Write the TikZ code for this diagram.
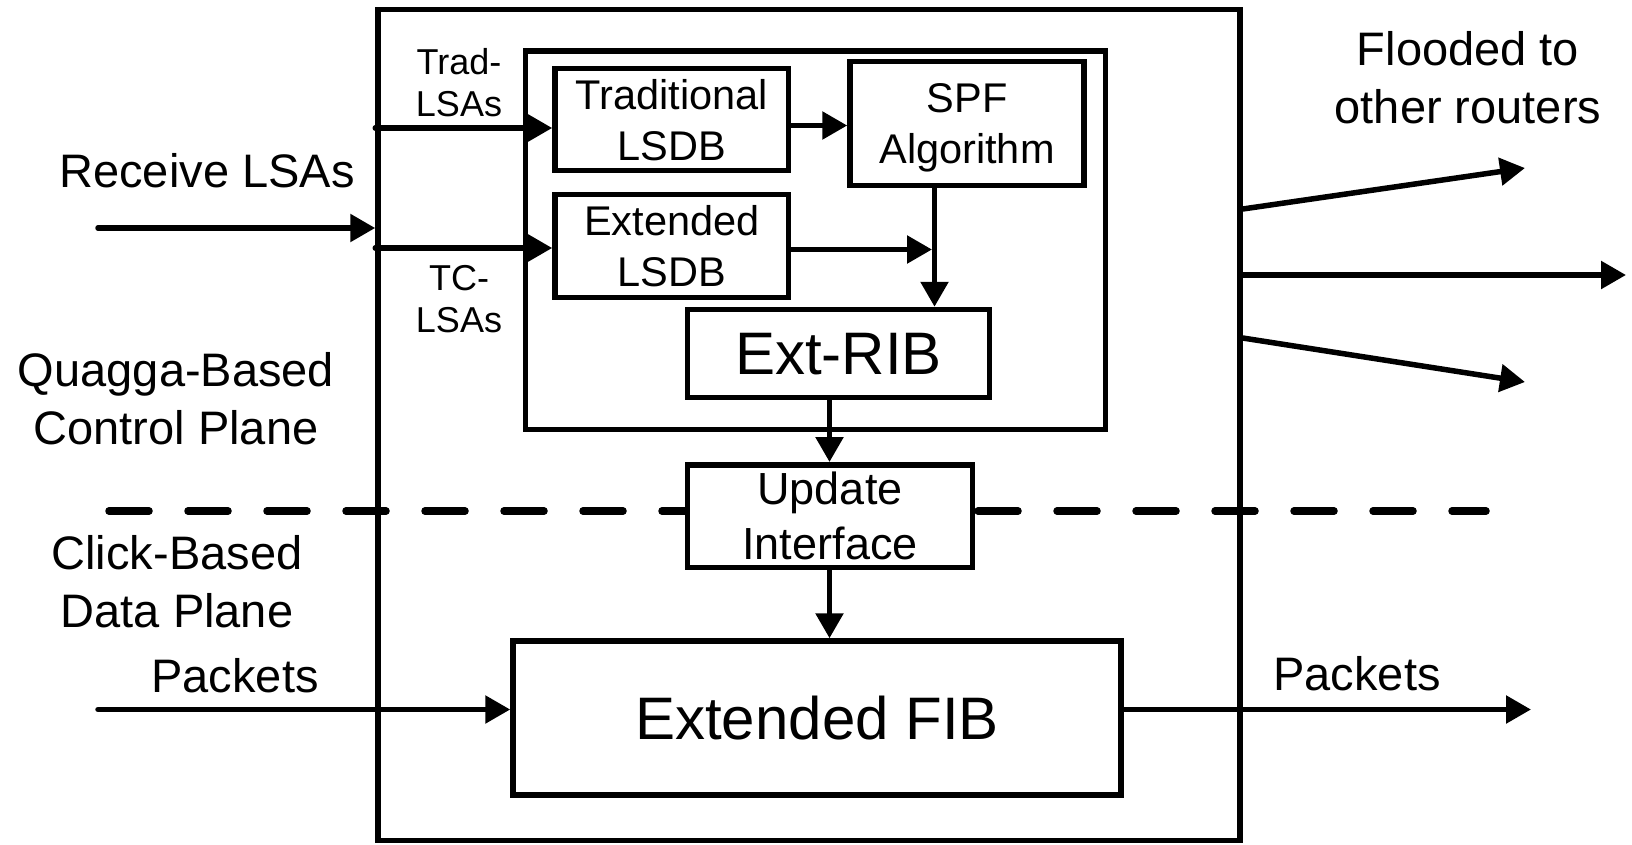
\documentclass[tikz,border=0pt]{standalone}
\usepackage{fontspec}
\setmainfont{Liberation Sans}
\usetikzlibrary{arrows.meta}

\begin{document}
\begin{tikzpicture}[x=1pt,y=-1pt,
  frame/.style={draw, line width=5.5pt, inner sep=0pt, align=center, text depth=0pt},
  conn/.style={line width=5.5pt, line cap=round, -{Triangle[length=25pt,width=27pt]}},
  sep/.style={line width=7.5pt, line cap=round, dash pattern=on 40pt off 39pt},
  outerfont/.style={font=\fontsize{47pt}{58pt}\selectfont},
  smallfont/.style={font=\fontsize{36pt}{42pt}\selectfont},
  boxfont/.style={font=\fontsize{41.5pt}{51pt}\selectfont},
  updfont/.style={font=\fontsize{45pt}{55pt}\selectfont},
  bigfont/.style={font=\fontsize{60pt}{70pt}\selectfont},
  lbl/.style={inner sep=0pt, align=center, anchor=base}]

\useasboundingbox (0,0) rectangle (1632,844);

% control/data plane separator
\draw[sep] (109,511) -- (1486,511);

% router and its blocks
\node[frame, minimum width=862pt, minimum height=831pt] (rtr) at (809,425) {};
\node[frame, minimum width=580pt, minimum height=378.5pt] (cp) at (815.5,240.25) {};
\node[frame, boxfont, minimum width=233.5pt, minimum height=102pt] (tlsdb) at (671.75,119.5) {Traditional\\LSDB};
\node[frame, boxfont, minimum width=234pt, minimum height=124pt] (spf) at (967,123.5) {SPF\\Algorithm};
\node[frame, boxfont, minimum width=233.5pt, minimum height=103pt] (elsdb) at (671.75,246) {Extended\\LSDB};
\node[frame, bigfont, minimum width=302pt, minimum height=88pt] (rib) at (838.5,353.5) {Ext-RIB};
\node[frame, fill=white, updfont, minimum width=285pt, minimum height=102.5pt] (upd) at (830,516) {Update\\Interface};
\node[frame, bigfont, minimum width=608pt, minimum height=154pt] (fib) at (817,718) {Extended FIB};

% labels
\node[lbl, outerfont] (flood) at (1468,123) {Flooded to\\other routers};
\node[lbl, outerfont] (recv) at (207,187) {Receive LSAs};
\node[lbl, outerfont] (cplabel) at (176,444) {Quagga-Based\\Control Plane};
\node[lbl, outerfont] (dplabel) at (177,627) {Click-Based\\Data Plane};
\node[lbl, outerfont] (pktin) at (235,692) {Packets};
\node[lbl, outerfont] (pktout) at (1357,690) {Packets};
\node[lbl, smallfont] (tradlbl) at (459,116) {Trad-\\LSAs};
\node[lbl, smallfont] (tclbl) at (459,332) {TC-\\LSAs};

% connectors
\coordinate (rx) at (98,228);
\draw[conn] (rx) -- (rx -| rtr.west);
\draw[conn] (rtr.west |- 0,128) -- (tlsdb.west |- 0,128);
\draw[conn] (rtr.west |- 0,248) -- (elsdb.west |- 0,248);
\draw[conn] (tlsdb.east |- 0,125.5) -- (spf.west |- 0,125.5);
\draw[conn] (spf.south -| 934.5,0) -- (rib.north -| 934.5,0);
\coordinate (mrg) at (932,249.5);
\draw[conn] (elsdb.east |- mrg) -- (mrg);
\draw[conn] (rib.south -| 829.5,0) -- (upd.north -| 829.5,0);
\draw[conn] (upd.south -| 829.5,0) -- (fib.north -| 829.5,0);
\coordinate (pin) at (98,709.5);
\draw[conn] (pin) -- (pin -| fib.west);
\coordinate (pout) at (1531,709.5);
\draw[conn] (fib.east |- pout) -- (pout);
\coordinate (f1) at (1525,168);
\coordinate (f2) at (1626,275);
\coordinate (f3) at (1525,382);
\draw[conn] (rtr.east |- 0,209) -- (f1);
\draw[conn] (rtr.east |- 0,275) -- (f2);
\draw[conn] (rtr.east |- 0,338) -- (f3);
\end{tikzpicture}
\end{document}
